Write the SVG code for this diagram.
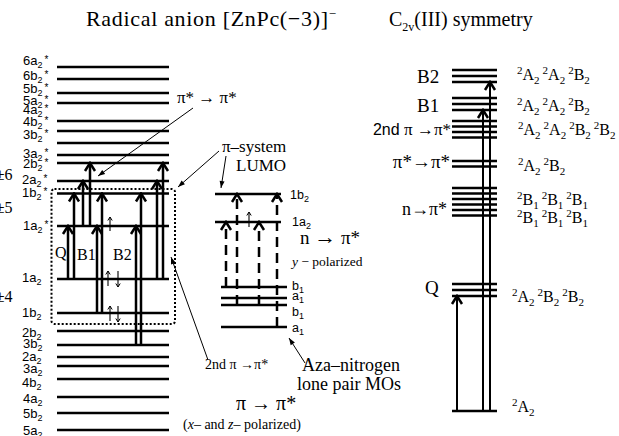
<svg xmlns="http://www.w3.org/2000/svg" width="619" height="436" viewBox="0 0 619 436">
<style>
.lv{stroke:#000;stroke-width:2.5;fill:none}
.ar{stroke:#000;stroke-width:2.5;fill:none;marker-end:url(#chev)}
.da{stroke:#000;stroke-width:2.5;fill:none;stroke-dasharray:10 6;marker-end:url(#chev)}
.rah{stroke:#000;stroke-width:2;fill:none;marker-end:url(#chev)}
.pt{stroke:#000;stroke-width:1;fill:none;marker-end:url(#tri)}
.spin{stroke:#000;stroke-width:1.1;fill:none;marker-end:url(#sp)}
.box{stroke:#000;stroke-width:2;fill:none;stroke-dasharray:2 2}
.ml{font-family:"Liberation Sans",Arial,sans-serif;font-size:13px;fill:#000}
.mm{font-family:"Liberation Sans",Arial,sans-serif;font-size:12.5px;fill:#000}
.sb{font-size:9px}
.st{font-size:10px}
.sr{font-family:"Liberation Serif","Times New Roman",serif;fill:#000}
.rl{font-family:"Liberation Serif","Times New Roman",serif;font-size:16px;fill:#000}
.sp{font-size:11px}
</style>
<defs>
<marker id="chev" viewBox="-11 -7 13 14" refX="0" refY="0" markerWidth="13" markerHeight="14" markerUnits="userSpaceOnUse" orient="auto">
<path d="M-8,-5 L0,0 L-8,5" fill="none" stroke="#000" stroke-width="2.5" stroke-dasharray="none"/>
</marker>
<marker id="tri" viewBox="-8 -4 9 8" refX="0" refY="0" markerWidth="9" markerHeight="8" markerUnits="userSpaceOnUse" orient="auto">
<path d="M-7,-2.5 L0,0 L-7,2.5 z" fill="#000"/>
</marker>
<marker id="sp" viewBox="-5 -3 6 6" refX="0" refY="0" markerWidth="6" markerHeight="6" markerUnits="userSpaceOnUse" orient="auto">
<path d="M-3.5,-2.2 L0,0 L-3.5,2.2" fill="none" stroke="#000" stroke-width="1"/>
</marker>
</defs>
<rect width="619" height="436" fill="#fff"/>

<g id="title">
<text class="sr" x="86" y="26" font-size="22" textLength="250" lengthAdjust="spacing">Radical anion [ZnPc(−3)]<tspan font-size="13" dy="-8">−</tspan></text>
<text class="sr" x="389" y="26" font-size="20">C<tspan font-size="12" dy="5">2v</tspan><tspan dy="-5">(III) symmetry</tspan></text>
</g>

<g id="ml-labels">
<text class="sr" x="12.5" y="180" font-size="16" text-anchor="end">±6</text>
<text class="sr" x="12.5" y="213" font-size="16" text-anchor="end">±5</text>
<text class="sr" x="12.5" y="302" font-size="16" text-anchor="end">±4</text>
</g>

<g id="left-column">
<g id="mo-6a2s"><line class="lv" x1="57" x2="169" y1="67" y2="67"/><text class="ml" x="23" y="65">6a<tspan class="sb" dy="3">2</tspan><tspan class="st" dx="2" dy="-5">*</tspan></text></g>
<g id="mo-6b2s"><line class="lv" x1="57" x2="169" y1="79" y2="79"/><text class="ml" x="23" y="80">6b<tspan class="sb" dy="3">2</tspan><tspan class="st" dx="2" dy="-5">*</tspan></text></g>
<g id="mo-5b2s"><line class="lv" x1="57" x2="169" y1="93" y2="93"/><text class="ml" x="23" y="93">5b<tspan class="sb" dy="3">2</tspan><tspan class="st" dx="2" dy="-5">*</tspan></text></g>
<g id="mo-5a2s"><line class="lv" x1="57" x2="169" y1="103" y2="103"/><text class="ml" x="23" y="105">5a<tspan class="sb" dy="3">2</tspan><tspan class="st" dx="2" dy="-5">*</tspan></text></g>
<g id="mo-4a2s"><line class="lv" x1="57" x2="169" y1="121" y2="121"/><text class="ml" x="23" y="114">4a<tspan class="sb" dy="3">2</tspan><tspan class="st" dx="2" dy="-5">*</tspan></text></g>
<g id="mo-4b2s"><line class="lv" x1="57" x2="169" y1="131" y2="131"/><text class="ml" x="23" y="126">4b<tspan class="sb" dy="3">2</tspan><tspan class="st" dx="2" dy="-5">*</tspan></text></g>
<g id="mo-3b2s"><line class="lv" x1="57" x2="169" y1="143" y2="143"/><text class="ml" x="23" y="139">3b<tspan class="sb" dy="3">2</tspan><tspan class="st" dx="2" dy="-5">*</tspan></text></g>
<g id="mo-3a2s"><line class="lv" x1="57" x2="169" y1="155" y2="155"/><text class="ml" x="23" y="158">3a<tspan class="sb" dy="3">2</tspan><tspan class="st" dx="2" dy="-5">*</tspan></text></g>
<g id="mo-2b2s"><line class="lv" x1="57" x2="169" y1="163" y2="163"/><text class="ml" x="23" y="168">2b<tspan class="sb" dy="3">2</tspan><tspan class="st" dx="2" dy="-5">*</tspan></text></g>
<g id="mo-2a2s"><line class="lv" x1="57" x2="169" y1="181" y2="181"/><text class="ml" x="22" y="184">2a<tspan class="sb" dy="3">2</tspan><tspan class="st" dx="2" dy="-5">*</tspan></text></g>
<g id="mo-1b2s"><line class="lv" x1="57" x2="169" y1="193.5" y2="193.5"/><text class="ml" x="22" y="197">1b<tspan class="sb" dy="3">2</tspan><tspan class="st" dx="2" dy="-5">*</tspan></text></g>
<g id="mo-1a2s"><line class="lv" x1="57" x2="169" y1="226" y2="226"/><text class="ml" x="23" y="230">1a<tspan class="sb" dy="3">2</tspan><tspan class="st" dx="2" dy="-5">*</tspan></text></g>
<g id="mo-1a2"><line class="lv" x1="57" x2="169" y1="279" y2="279"/><text class="ml" x="22" y="282">1a<tspan class="sb" dy="3">2</tspan></text></g>
<g id="mo-1b2"><line class="lv" x1="57" x2="169" y1="313" y2="313"/><text class="ml" x="22" y="316.5">1b<tspan class="sb" dy="3">2</tspan></text></g>
<g id="mo-2b2"><line class="lv" x1="57" x2="169" y1="331" y2="331"/><text class="ml" x="22" y="336.5">2b<tspan class="sb" dy="3">2</tspan></text></g>
<g id="mo-3b2"><line class="lv" x1="57" x2="169" y1="345" y2="345"/><text class="ml" x="23" y="348">3b<tspan class="sb" dy="3">2</tspan></text></g>
<g id="mo-2a2"><line class="lv" x1="57" x2="169" y1="357" y2="357"/><text class="ml" x="22" y="360.5">2a<tspan class="sb" dy="3">2</tspan></text></g>
<g id="mo-3a2"><line class="lv" x1="57" x2="169" y1="366" y2="366"/><text class="ml" x="23" y="373">3a<tspan class="sb" dy="3">2</tspan></text></g>
<g id="mo-4b2"><line class="lv" x1="57" x2="169" y1="379" y2="379"/><text class="ml" x="22" y="386.5">4b<tspan class="sb" dy="3">2</tspan></text></g>
<g id="mo-4a2"><line class="lv" x1="57" x2="169" y1="397" y2="397"/><text class="ml" x="23" y="403">4a<tspan class="sb" dy="3">2</tspan></text></g>
<g id="mo-5b2"><line class="lv" x1="57" x2="169" y1="413" y2="413"/><text class="ml" x="23" y="418">5b<tspan class="sb" dy="3">2</tspan></text></g>
<g id="mo-5a2"><line class="lv" x1="57" x2="169" y1="430" y2="430"/><text class="ml" x="23" y="435">5a<tspan class="sb" dy="3">2</tspan></text></g>
</g>

<g id="frontier-box"><rect class="box" x="51.5" y="189" width="123.5" height="135" rx="3"/></g>

<g id="middle-column">
<g id="n-1b2"><line class="lv" x1="215" x2="281" y1="194" y2="194"/><text class="mm" x="290" y="199">1b<tspan class="sb" dy="3">2</tspan></text></g>
<g id="n-1a2"><line class="lv" x1="215" x2="281" y1="222" y2="222"/><text class="mm" x="292" y="226">1a<tspan class="sb" dy="3">2</tspan></text></g>
<g id="n-b1a"><line class="lv" x1="221" x2="287" y1="287" y2="287"/><text class="mm" x="292" y="290">b<tspan class="sb" dy="3">1</tspan></text></g>
<g id="n-a1a"><line class="lv" x1="221" x2="287" y1="298" y2="298"/><text class="mm" x="292" y="300">a<tspan class="sb" dy="3">1</tspan></text></g>
<g id="n-b1b"><line class="lv" x1="221" x2="287" y1="305" y2="305"/><text class="mm" x="292" y="316">b<tspan class="sb" dy="3">1</tspan></text></g>
<g id="n-a1b"><line class="lv" x1="221" x2="287" y1="327" y2="327"/><text class="mm" x="292" y="332">a<tspan class="sb" dy="3">1</tspan></text></g>
</g>

<g id="right-column">
<g id="s-B2"><line class="lv" x1="452" x2="497" y1="70" y2="70"/><line class="lv" x1="452" x2="497" y1="76" y2="76"/><line class="lv" x1="452" x2="497" y1="82" y2="82"/>
<text class="sr" x="417" y="83" font-size="19">B2</text>
<text class="rl" x="517" y="80"><tspan class="sp" dy="-6">2</tspan><tspan dy="6">A</tspan><tspan class="sp" dy="4">2</tspan><tspan class="sp" dx="3" dy="-10">2</tspan><tspan dy="6">A</tspan><tspan class="sp" dy="4">2</tspan><tspan class="sp" dx="3" dy="-10">2</tspan><tspan dy="6">B</tspan><tspan class="sp" dy="4">2</tspan></text></g>
<g id="s-B1"><line class="lv" x1="452" x2="497" y1="98" y2="98"/><line class="lv" x1="452" x2="497" y1="104" y2="104"/><line class="lv" x1="452" x2="497" y1="110" y2="110"/>
<text class="sr" x="417" y="112" font-size="19">B1</text>
<text class="rl" x="517" y="110.5"><tspan class="sp" dy="-6">2</tspan><tspan dy="6">A</tspan><tspan class="sp" dy="4">2</tspan><tspan class="sp" dx="3" dy="-10">2</tspan><tspan dy="6">A</tspan><tspan class="sp" dy="4">2</tspan><tspan class="sp" dx="3" dy="-10">2</tspan><tspan dy="6">B</tspan><tspan class="sp" dy="4">2</tspan></text></g>
<g id="s-2nd"><line class="lv" x1="452" x2="497" y1="121" y2="121"/><line class="lv" x1="452" x2="497" y1="126.5" y2="126.5"/><line class="lv" x1="452" x2="497" y1="132" y2="132"/><line class="lv" x1="452" x2="497" y1="137.5" y2="137.5"/>
<text x="451" y="135" text-anchor="end" style="font-family:'Liberation Sans',Arial,sans-serif;font-size:16px">2nd <tspan class="sr" style="font-size:17px">π →π*</tspan></text>
<text class="rl" x="518" y="135"><tspan class="sp" dy="-6">2</tspan><tspan dy="6">A</tspan><tspan class="sp" dy="4">2</tspan><tspan class="sp" dx="3" dy="-10">2</tspan><tspan dy="6">A</tspan><tspan class="sp" dy="4">2</tspan><tspan class="sp" dx="3" dy="-10">2</tspan><tspan dy="6">B</tspan><tspan class="sp" dy="4">2</tspan><tspan class="sp" dx="3" dy="-10">2</tspan><tspan dy="6">B</tspan><tspan class="sp" dy="4">2</tspan></text></g>
<g id="s-pipi"><line class="lv" x1="452" x2="497" y1="161" y2="161"/><line class="lv" x1="452" x2="497" y1="166.5" y2="166.5"/>
<text class="sr" x="450" y="168" font-size="19" text-anchor="end">π*→π*</text>
<text class="rl" x="518" y="171"><tspan class="sp" dy="-6">2</tspan><tspan dy="6">A</tspan><tspan class="sp" dy="4">2</tspan><tspan class="sp" dx="3" dy="-10">2</tspan><tspan dy="6">B</tspan><tspan class="sp" dy="4">2</tspan></text></g>
<g id="s-npi"><line class="lv" x1="452" x2="497" y1="188" y2="188"/><line class="lv" x1="452" x2="497" y1="193.5" y2="193.5"/><line class="lv" x1="452" x2="497" y1="199" y2="199"/><line class="lv" x1="452" x2="497" y1="204.5" y2="204.5"/><line class="lv" x1="452" x2="497" y1="210" y2="210"/><line class="lv" x1="452" x2="497" y1="215.5" y2="215.5"/>
<text class="sr" x="447" y="215" font-size="18" text-anchor="end">n→π*</text>
<text class="rl" x="517" y="205"><tspan class="sp" dy="-6">2</tspan><tspan dy="6">B</tspan><tspan class="sp" dy="4">1</tspan><tspan class="sp" dx="3" dy="-10">2</tspan><tspan dy="6">B</tspan><tspan class="sp" dy="4">1</tspan><tspan class="sp" dx="3" dy="-10">2</tspan><tspan dy="6">B</tspan><tspan class="sp" dy="4">1</tspan></text>
<text class="rl" x="517" y="223"><tspan class="sp" dy="-6">2</tspan><tspan dy="6">B</tspan><tspan class="sp" dy="4">1</tspan><tspan class="sp" dx="3" dy="-10">2</tspan><tspan dy="6">B</tspan><tspan class="sp" dy="4">1</tspan><tspan class="sp" dx="3" dy="-10">2</tspan><tspan dy="6">B</tspan><tspan class="sp" dy="4">1</tspan></text></g>
<g id="s-Q"><line class="lv" x1="452" x2="497" y1="284" y2="284"/><line class="lv" x1="452" x2="497" y1="290" y2="290"/><line class="lv" x1="452" x2="497" y1="296" y2="296"/>
<text class="sr" x="425" y="294" font-size="19">Q</text>
<text class="rl" x="512" y="302"><tspan class="sp" dy="-6">2</tspan><tspan dy="6">A</tspan><tspan class="sp" dy="4">2</tspan><tspan class="sp" dx="3" dy="-10">2</tspan><tspan dy="6">B</tspan><tspan class="sp" dy="4">2</tspan><tspan class="sp" dx="3" dy="-10">2</tspan><tspan dy="6">B</tspan><tspan class="sp" dy="4">2</tspan></text></g>
<g id="s-ground"><line class="lv" x1="452" x2="497" y1="411" y2="411"/>
<text class="rl" x="512" y="412"><tspan class="sp" dy="-6">2</tspan><tspan dy="6">A</tspan><tspan class="sp" dy="4">2</tspan></text></g>
</g>

<g id="annotations">
<text class="sr" x="55" y="258" font-size="16">Q</text>
<text class="sr" x="77" y="260" font-size="16">B1</text>
<text class="sr" x="113" y="260" font-size="16">B2</text>
<text class="sr" x="177" y="103" font-size="17">π* → π*</text>
<text class="sr" x="222" y="152" font-size="17">π–system</text>
<text class="sr" x="236" y="171" font-size="17">LUMO</text>
<text class="sr" x="300" y="244" font-size="19">n <tspan font-size="22">→</tspan> π*</text>
<text class="sr" x="292" y="266" font-size="13.5"><tspan font-style="italic">y</tspan> − polarized</text>
<text class="sr" x="205" y="369" font-size="14">2nd π →π*</text>
<text class="sr" x="302" y="371" font-size="18">Aza–nitrogen</text>
<text class="sr" x="297" y="390" font-size="18">lone pair MOs</text>
<text class="sr" x="236" y="410" font-size="20">π → π*</text>
<text class="sr" x="183" y="429" font-size="14">(<tspan font-style="italic">x</tspan>– and <tspan font-style="italic">z</tspan>– polarized)</text>
</g>

<g id="connectors">
<line class="ar" x1="68" y1="279" x2="68" y2="226"/>
<line class="ar" x1="74" y1="279" x2="74" y2="193.5"/>
<line class="ar" x1="83" y1="226" x2="83" y2="181"/>
<line class="ar" x1="90" y1="226" x2="90" y2="163"/>
<line class="ar" x1="97" y1="313" x2="97" y2="226"/>
<line class="ar" x1="102" y1="313" x2="102" y2="193.5"/>
<line class="ar" x1="136" y1="345" x2="136" y2="226"/>
<line class="ar" x1="141" y1="345" x2="141" y2="193.5"/>
<line class="ar" x1="157" y1="279" x2="157" y2="181"/>
<line class="ar" x1="163" y1="279" x2="163" y2="163"/>
<line class="spin" x1="110" y1="231" x2="110" y2="217"/>
<line class="spin" x1="108" y1="286" x2="108" y2="271"/>
<line class="spin" x1="118" y1="271" x2="118" y2="287"/>
<line class="spin" x1="110" y1="321" x2="110" y2="306"/>
<line class="spin" x1="118" y1="306" x2="118" y2="322"/>
<line class="spin" x1="249" y1="227" x2="249" y2="212"/>
<line class="da" x1="226" y1="287" x2="226" y2="222"/>
<line class="da" x1="237" y1="305" x2="237" y2="194"/>
<line class="da" x1="259" y1="305" x2="259" y2="222"/>
<line class="da" x1="277" y1="327" x2="277" y2="194"/>
<line class="rah" x1="457" y1="411" x2="457" y2="296"/>
<line class="rah" x1="483" y1="411" x2="483" y2="110"/>
<line class="rah" x1="490" y1="411" x2="490" y2="82"/>
<line class="pt" x1="193" y1="108" x2="98" y2="176"/>
<line class="pt" x1="219" y1="151" x2="178" y2="187"/>
<line class="pt" x1="226" y1="156" x2="221" y2="188"/>
<line class="pt" x1="208" y1="360" x2="171" y2="257"/>
<line class="pt" x1="305" y1="363" x2="289" y2="338"/>
</g>
</svg>
